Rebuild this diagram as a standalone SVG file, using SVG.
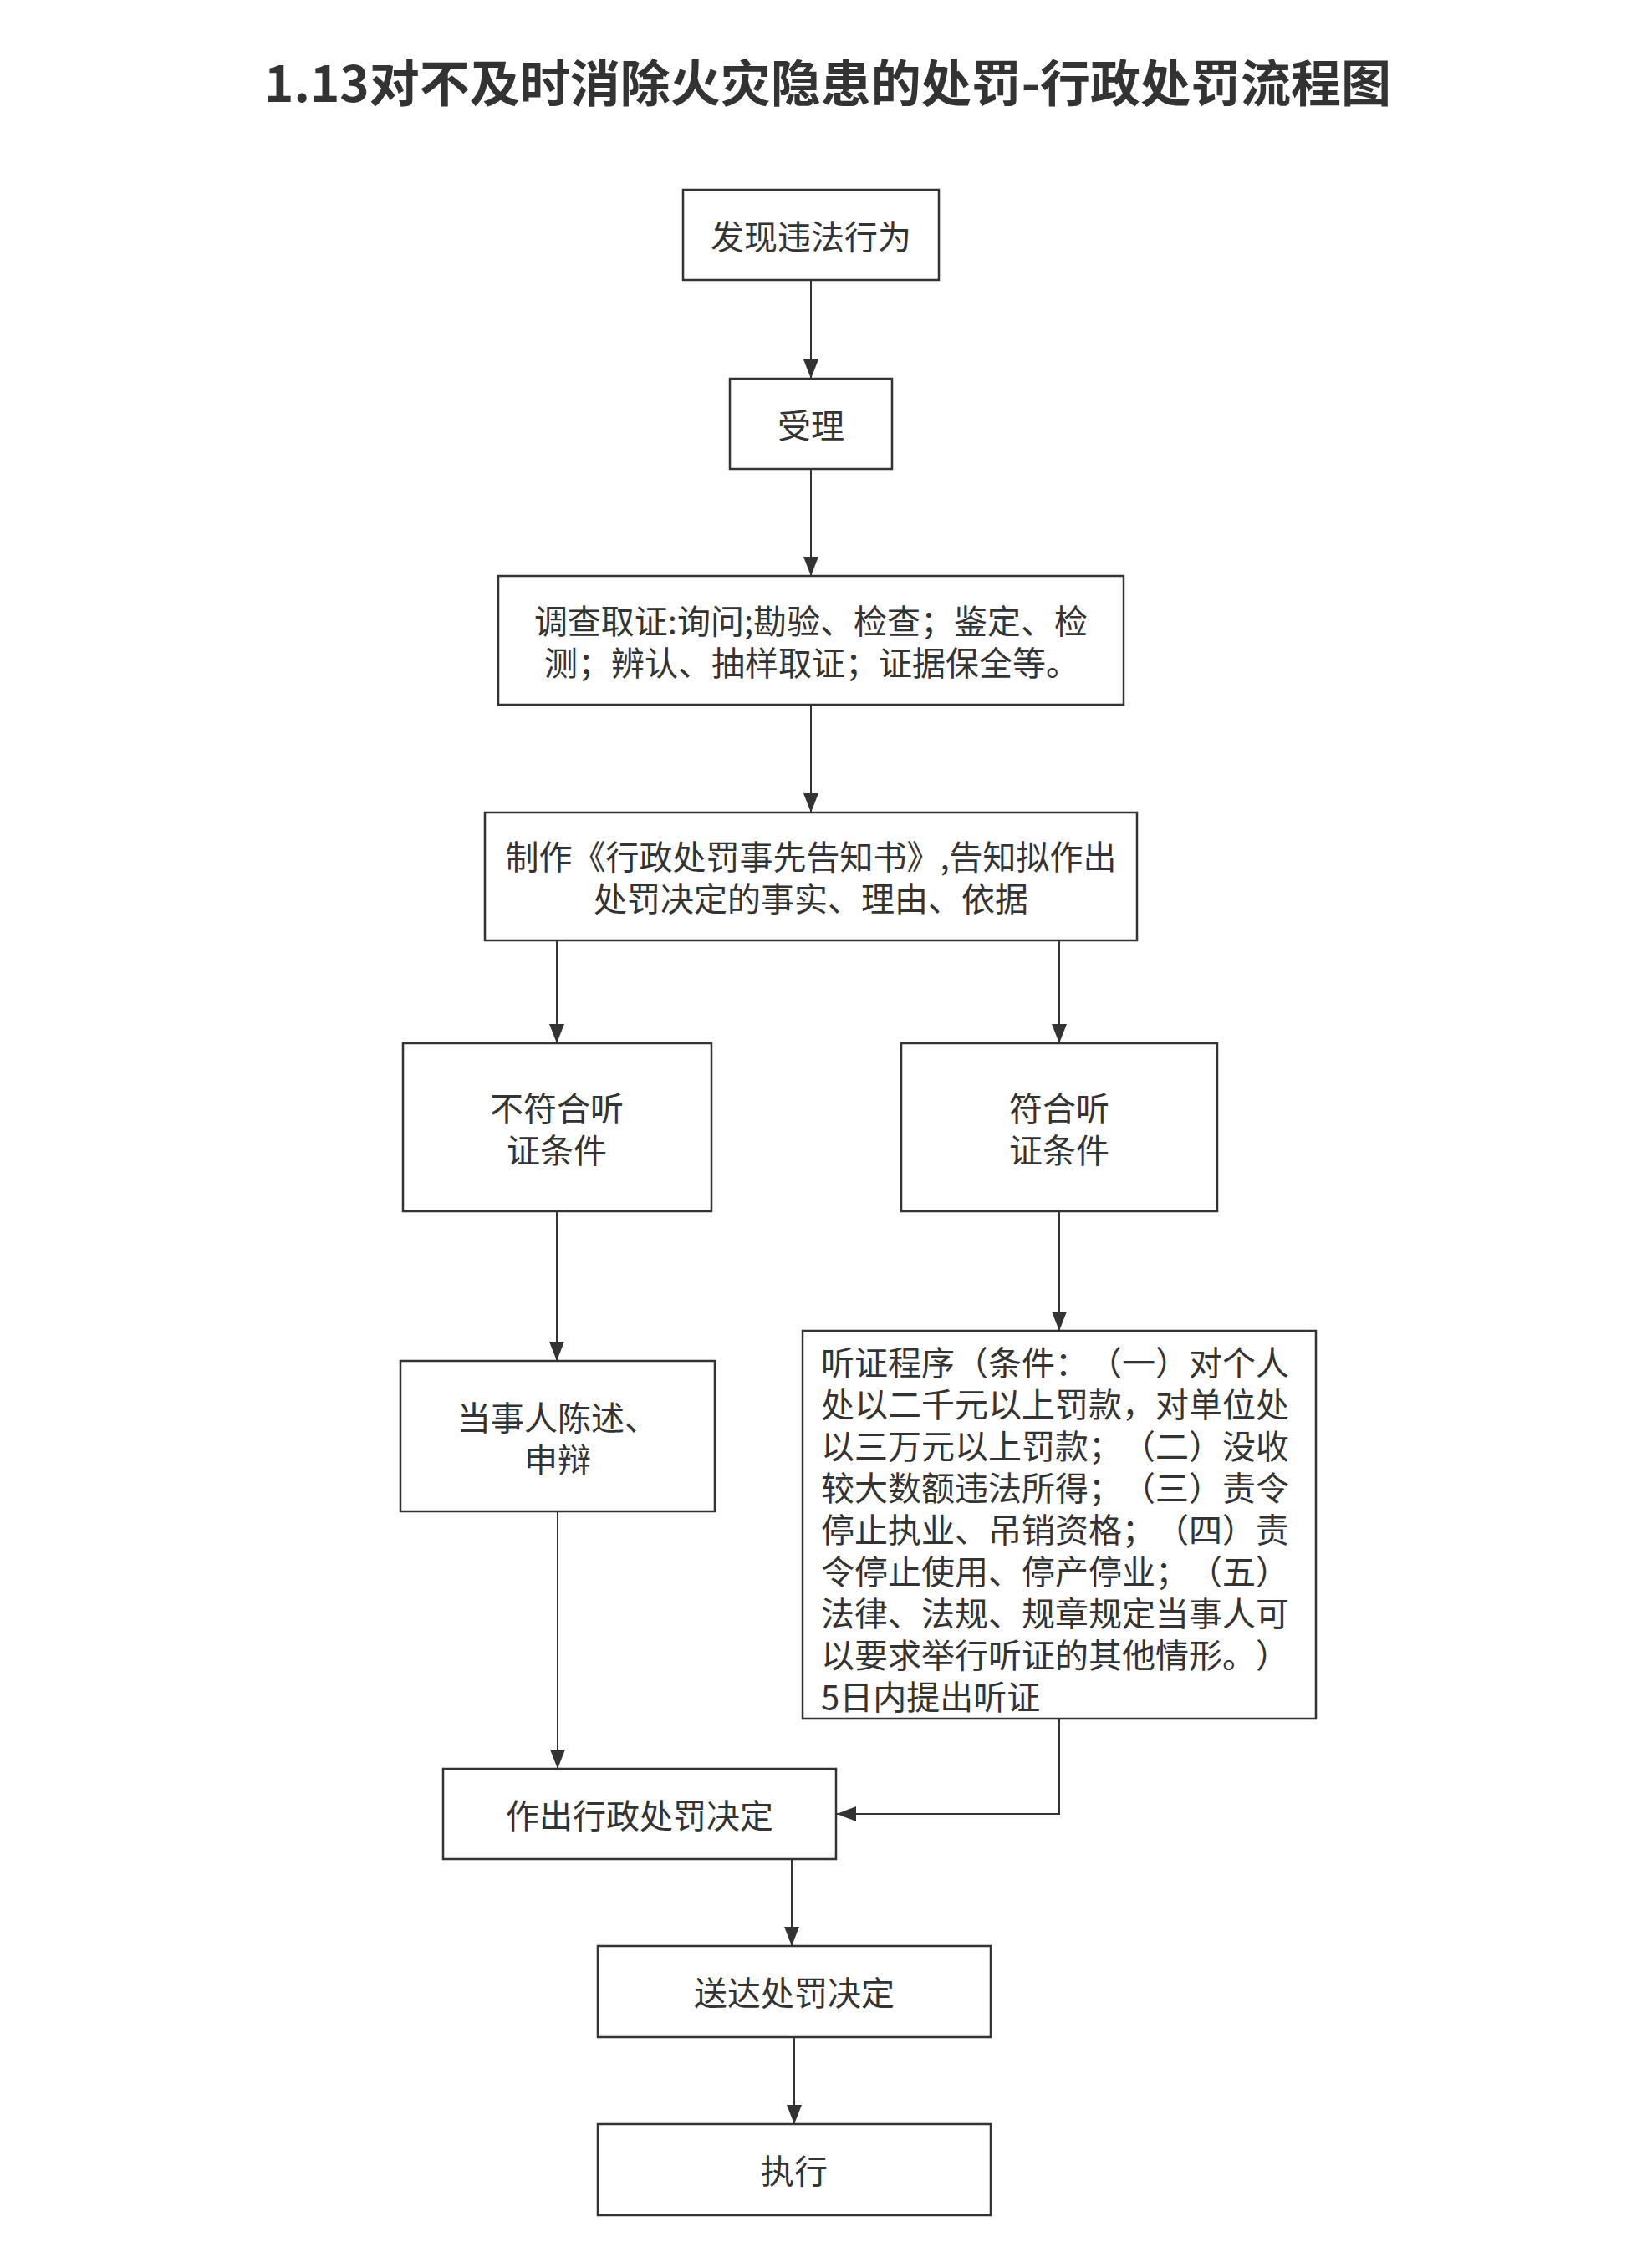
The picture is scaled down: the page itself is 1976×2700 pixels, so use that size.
<svg xmlns="http://www.w3.org/2000/svg" width="1976" height="2700" viewBox="0 0 1976 2700">
<style>
.bg{fill:#ffffff}
.box{fill:#ffffff;stroke:#333333;stroke-width:2.5}
text{text-spacing-trim:space-all}
.t{font-family:"Noto Sans CJK SC","Noto Sans",sans-serif;font-size:40px;fill:#333333;dominant-baseline:central}
.c{text-anchor:middle}
.title{font-family:"Noto Sans CJK SC","Noto Sans",sans-serif;font-size:60px;font-weight:700;fill:#333333;text-anchor:middle;dominant-baseline:central}
.edge{fill:none;stroke:#333333;stroke-width:2;marker-end:url(#arr)}
</style>
<defs>
<marker id="arr" markerUnits="userSpaceOnUse" markerWidth="24" markerHeight="20" viewBox="0 0 24 20" refX="23" refY="10" orient="auto">
<path d="M0,1 L23,10 L0,19 Z" fill="#333333"/>
</marker>
</defs>
<rect class="bg" x="0" y="0" width="1976" height="2700"/>
<text class="title" x="990" y="95">1.13对不及时消除火灾隐患的处罚-行政处罚流程图</text>
<g id="connectors">
<path class="edge" d="M970,335 V453"/>
<path class="edge" d="M970,561 V689"/>
<path class="edge" d="M970,843 V972"/>
<path class="edge" d="M666,1125 V1248"/>
<path class="edge" d="M1267,1125 V1248"/>
<path class="edge" d="M666,1449 V1628"/>
<path class="edge" d="M1267,1449 V1592"/>
<path class="edge" d="M667,1808 V2116"/>
<path class="edge" d="M1267,2056 V2170 H1001"/>
<path class="edge" d="M947,2224 V2328"/>
<path class="edge" d="M950,2437 V2541"/>
</g>
<g id="n1"><rect class="box" x="817" y="227" width="306" height="108"/><text class="t c" x="970" y="281">发现违法行为</text></g>
<g id="n2"><rect class="box" x="873" y="453" width="194" height="108"/><text class="t c" x="970" y="507">受理</text></g>
<g id="n3"><rect class="box" x="596" y="689" width="748" height="154"/><text class="t c" x="970" y="741">调查取证:询问;勘验、检查；鉴定、检</text><text class="t c" x="971" y="791">测；辨认、抽样取证；证据保全等。</text></g>
<g id="n4"><rect class="box" x="580" y="972" width="780" height="153"/><text class="t c" x="970" y="1023">制作《行政处罚事先告知书》,告知拟作出</text><text class="t c" x="970" y="1073">处罚决定的事实、理由、依据</text></g>
<g id="n5"><rect class="box" x="482" y="1248" width="369" height="201"/><text class="t c" x="666" y="1324">不符合听</text><text class="t c" x="666" y="1374">证条件</text></g>
<g id="n6"><rect class="box" x="1078" y="1248" width="378" height="201"/><text class="t c" x="1267" y="1324">符合听</text><text class="t c" x="1267" y="1374">证条件</text></g>
<g id="n7"><rect class="box" x="479" y="1628" width="376" height="180"/><text class="t c" x="667" y="1694">当事人陈述、</text><text class="t c" x="667" y="1744">申辩</text></g>
<g id="n8"><rect class="box" x="960" y="1592" width="614" height="464"/>
<text class="t" x="982" y="1628">听证程序（条件：（一）对个人</text>
<text class="t" x="982" y="1678">处以二千元以上罚款，对单位处</text>
<text class="t" x="982" y="1728">以三万元以上罚款；（二）没收</text>
<text class="t" x="982" y="1778">较大数额违法所得；（三）责令</text>
<text class="t" x="982" y="1828">停止执业、吊销资格；（四）责</text>
<text class="t" x="982" y="1878">令停止使用、停产停业；（五）</text>
<text class="t" x="982" y="1928">法律、法规、规章规定当事人可</text>
<text class="t" x="982" y="1978">以要求举行听证的其他情形。）</text>
<text class="t" x="982" y="2028">5日内提出听证</text>
</g>
<g id="n9"><rect class="box" x="530" y="2116" width="470" height="108"/><text class="t c" x="765" y="2170">作出行政处罚决定</text></g>
<g id="n10"><rect class="box" x="715" y="2328" width="470" height="109"/><text class="t c" x="950" y="2382">送达处罚决定</text></g>
<g id="n11"><rect class="box" x="715" y="2541" width="470" height="109"/><text class="t c" x="950" y="2595">执行</text></g>
</svg>
